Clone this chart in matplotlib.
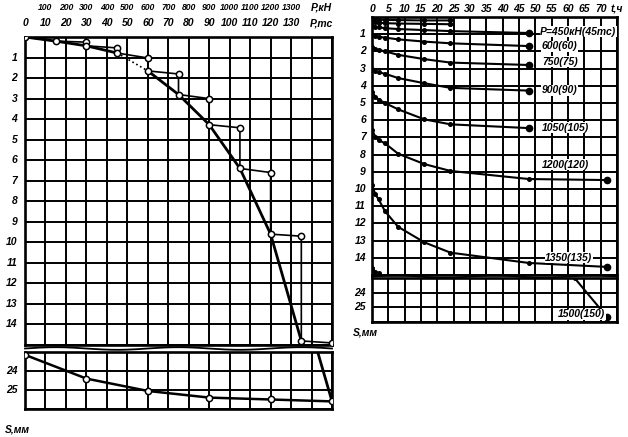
import numpy as np
import matplotlib
matplotlib.use('Agg')
from matplotlib import pyplot as plt
from matplotlib.lines import Line2D

plt.rcParams['font.family'] = ['Liberation Sans', 'DejaVu Sans']

# ---- left chart: load P (tc) vs settlement S (mm)
load_tc = [0, 10, 20, 30, 40, 50, 60, 70, 80, 90, 100, 110, 120, 130]
load_kn = [100, 200, 300, 400, 500, 600, 700, 800, 900, 1000, 1100, 1200, 1300]

# stepwise test record (load step + creep at constant load)
step_P = [0, 15, 30, 30, 45, 45, 60, 60, 75, 75, 90, 90, 105, 105, 120, 120, 135, 135, 150]
step_S = [0, 0.2, 0.25, 0.43, 0.53, 0.78, 1.02, 1.65, 1.8, 2.8, 3.0, 4.27, 4.42, 6.4, 6.6, 9.6, 9.7, 14.8, 14.9]

# envelope through stabilised settlements
main_P = [0, 15, 30, 45]
main_S = [0, 0.2, 0.43, 0.78]
main_dot_P = [45, 60]
main_dot_S = [0.78, 1.65]
main2_P = [60, 75, 90, 105, 120, 135, 143, 150]
main2_S = [1.65, 2.8, 4.27, 6.4, 9.6, 14.8, 23.0, 25.6]

# unloading
unl_P = [0, 30, 60, 90, 120, 150]
unl_S = [23.15, 24.4, 25.05, 25.4, 25.5, 25.6]

# ---- right chart: settlement vs time t (h) at each load
t8 = [0, 1, 2, 4, 8, 16, 24, 48]
t9 = [0, 1, 2, 4, 8, 16, 24, 48, 72]
curves = {
    150: ([0, 1, 2, 4, 8, 16, 24], [0.12, 0.14, 0.15, 0.17, 0.18, 0.2, 0.2]),
    300: ([0, 1, 2, 4, 8, 16, 24], [0.27, 0.3, 0.33, 0.36, 0.38, 0.4, 0.42]),
    450: (t8, [0.5, 0.56, 0.6, 0.65, 0.7, 0.76, 0.82, 0.93]),
    600: (t8, [1.05, 1.1, 1.15, 1.2, 1.3, 1.43, 1.53, 1.69]),
    750: (t8, [1.75, 1.85, 1.92, 2.0, 2.2, 2.45, 2.65, 2.79]),
    900: (t8, [3.05, 3.15, 3.22, 3.3, 3.55, 3.85, 4.12, 4.28]),
    1050: (t8, [4.35, 4.63, 4.8, 5.0, 5.37, 5.95, 6.24, 6.46]),
    1200: (t9, [6.57, 6.95, 7.15, 7.35, 7.95, 8.55, 8.95, 9.42, 9.48]),
    1350: (t9, [9.77, 10.3, 10.6, 11.3, 12.2, 13.1, 13.7, 14.3, 14.53]),
    1500: ([0, 1, 2, 62, 72], [14.6, 14.8, 14.9, 23.0, 25.67]),
}
labels = {
    450: ('P=450кН(45тс)', 51.5, 0.87),
    600: ('600(60)', 52, 1.7),
    750: ('750(75)', 52, 2.6),
    900: ('900(90)', 52, 4.25),
    1050: ('1050(105)', 52, 6.45),
    1200: ('1200(120)', 52, 8.6),
    1350: ('1350(135)', 53, 14.0),
    1500: ('1500(150)', 57, 25.47),
}
time_ticks = list(range(0, 75, 5))

fs = 7.5
tkw = dict(fontsize=fs, style='italic', fontweight='bold')
skw = dict(fontsize=6.2, style='italic', fontweight='bold')

fig = plt.figure(figsize=(6.28, 4.37), dpi=100)
axL = fig.add_axes([0.0398, 0.2105, 0.4889, 0.7048])
axL2 = fig.add_axes([0.0398, 0.0641, 0.4889, 0.1304])
axR = fig.add_axes([0.5924, 0.3707, 0.3901, 0.5904])
axR2 = fig.add_axes([0.5924, 0.2632, 0.3901, 0.1007])


def grid_axes(ax, xmax, xstep, ylo, yhi):
    ax.set_xlim(0, xmax)
    ax.set_ylim(yhi, ylo)
    ax.set_xticks(np.arange(0, xmax + 0.1, xstep))
    ax.set_yticks(np.arange(np.ceil(ylo), yhi + 0.01, 1))
    ax.grid(True, color='black', lw=1.4)
    ax.tick_params(length=0, labelbottom=False, labelleft=False)
    for sp in ax.spines.values():
        sp.set_linewidth(1.9)


grid_axes(axL, 150, 10, 0, 15)
grid_axes(axL2, 150, 10, 23, 26)
grid_axes(axR, 75, 5, 0, 15)
grid_axes(axR2, 75, 5, 23, 26)

# left chart curves
for ax in (axL, axL2):
    ax.plot(step_P, step_S, color='black', lw=1.2, marker='o', ms=4.5,
            mfc='white', mec='black', mew=1.1, zorder=4)
    ax.plot(main_P, main_S, color='black', lw=2.0, zorder=3)
    ax.plot(main_dot_P, main_dot_S, color='black', lw=1.2, ls=':', zorder=3)
    ax.plot(main2_P, main2_S, color='black', lw=2.0, zorder=3)
axL2.plot(unl_P, unl_S, color='black', lw=1.8, marker='o', ms=4.5,
          mfc='white', mec='black', mew=1.1, zorder=4)

# right chart curves
for key, (tt, ss) in curves.items():
    end_ms = 2.6 if key < 450 else 4.5
    for ax in (axR, axR2):
        ax.plot(tt, ss, color='black', lw=1.5, marker='o', ms=2.6, zorder=4)
        ax.plot(tt[-1], ss[-1], 'o', color='black', ms=end_ms, zorder=5)
for key, (txt, tx, sy) in labels.items():
    ax = axR2 if sy > 20 else axR
    ax.text(tx, sy, txt, ha='left', va='center', zorder=6,
            bbox=dict(facecolor='white', edgecolor='none', pad=0.4), **tkw)

# axis labels
trL = axL.get_xaxis_transform()
for p in load_tc:
    axL.text(p, 1.045, str(p), transform=trL, ha='center', va='center', **tkw)
for p, k in zip(load_tc[1:], load_kn):
    axL.text(p, 1.095, str(k), transform=trL, ha='center', va='center', **skw)
axL.text(145, 1.045, 'P,тс', transform=trL, ha='center', va='center', **tkw)
axL.text(145, 1.095, 'P,кН', transform=trL, ha='center', va='center', **tkw)

trR = axR.get_xaxis_transform()
for t in time_ticks:
    axR.text(t, 1.03, str(t), transform=trR, ha='center', va='center', **tkw)
axR.text(75, 1.03, 't,ч', transform=trR, ha='center', va='center', **tkw)

for ax in (axL, axR):
    tr = ax.get_yaxis_transform()
    for s in range(1, 15):
        ax.text(-0.025, s, str(s), transform=tr, ha='right', va='center', **tkw)
for ax in (axL2, axR2):
    tr = ax.get_yaxis_transform()
    for s in (24, 25):
        ax.text(-0.025, s, str(s), transform=tr, ha='right', va='center', **tkw)

fig.text(0.008, 0.017, 'S,мм', ha='left', va='center', **tkw)
fig.text(0.562, 0.238, 'S,мм', ha='left', va='center', **tkw)

# wavy break lines between the panels
for x0, x1, yc in ((0.0398, 0.5287, 0.2025), (0.5924, 0.9825, 0.367)):
    xs = np.linspace(x0, x1, 200)
    ys = yc + 0.003 * np.sin((xs - x0) / (x1 - x0) * 2 * np.pi * 2.5)
    fig.add_artist(Line2D(xs, ys, color='black', lw=1.3))

plt.savefig('out.png', dpi=100)
